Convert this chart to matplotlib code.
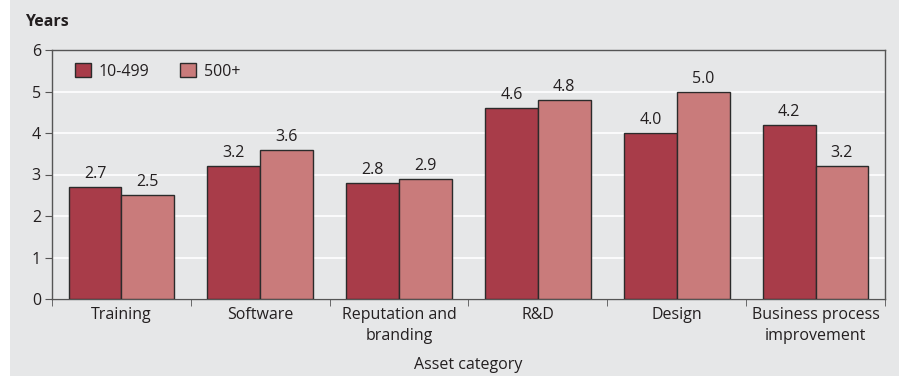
import matplotlib.pyplot as plt
import matplotlib.patches as mpatches
import numpy as np

plt.rcParams['font.family'] = ['Open Sans', 'DejaVu Sans']

categories = ['Training', 'Software', 'Reputation and\nbranding', 'R&D', 'Design',
              'Business process\nimprovement']
small_firms = [2.7, 3.2, 2.8, 4.6, 4.0, 4.2]
large_firms = [2.5, 3.6, 2.9, 4.8, 5.0, 3.2]
series_names = ['10-499', '500+']

bg = '#e6e7e8'
dark = '#a83c49'
light = '#c97b7b'
txt = '#231f20'

fig = plt.figure(figsize=(8.99, 3.76), dpi=100)
fig.patch.set_facecolor('white')
fig.add_artist(mpatches.Rectangle((10 / 899, 0), 1, 1, transform=fig.transFigure,
                                  facecolor=bg, edgecolor='none', zorder=0))

ax = fig.add_axes([52 / 899, 1 - 299 / 376, 833 / 899, 249 / 376])
ax.set_facecolor(bg)

x = np.arange(len(categories))
w = 0.38
b1 = ax.bar(x - w / 2, small_firms, w, color=dark, edgecolor='#2b2b2b', linewidth=1,
            label=series_names[0], zorder=3)
b2 = ax.bar(x + w / 2, large_firms, w, color=light, edgecolor='#2b2b2b', linewidth=1,
            label=series_names[1], zorder=3)

for bars, vals in ((b1, small_firms), (b2, large_firms)):
    for r, v in zip(bars, vals):
        ax.text(r.get_x() + r.get_width() / 2, v + 0.12, f'{v:.1f}', ha='center',
                va='bottom', fontsize=11.5, color=txt)

ax.set_xlim(-0.5, len(categories) - 0.5)
ax.set_ylim(0, 6)
ax.set_yticks(range(7))
ax.yaxis.grid(True, color='white', linewidth=1.2, zorder=0)
ax.set_axisbelow(True)

ax.set_xticks(x)
ax.set_xticklabels(categories, fontsize=11.5, color=txt, linespacing=1.35)
ax.tick_params(axis='x', length=0, pad=6)
ax.set_xticks(np.arange(-0.5, len(categories), 1), minor=True)
ax.tick_params(axis='x', which='minor', length=5, direction='out', color='#555555')
ax.tick_params(axis='y', labelsize=11.5, labelcolor=txt, length=5, color='#555555', pad=3)

for s in ax.spines.values():
    s.set_color('#555555')
    s.set_linewidth(1)

ax.set_xlabel('Asset category', fontsize=11.5, color=txt, labelpad=10)
fig.text(25 / 899, 1 - 22 / 376, 'Years', fontsize=11.5, fontweight='bold', color=txt,
         va='center', ha='left')

leg = ax.legend(loc='upper left', ncol=2, frameon=False, fontsize=11.5,
                bbox_to_anchor=(0.01, 1.005), handlelength=1.0, handleheight=1.0,
                columnspacing=1.9, handletextpad=0.5)
for t in leg.get_texts():
    t.set_color(txt)

fig.savefig('out.png', dpi=100, facecolor=fig.get_facecolor())
